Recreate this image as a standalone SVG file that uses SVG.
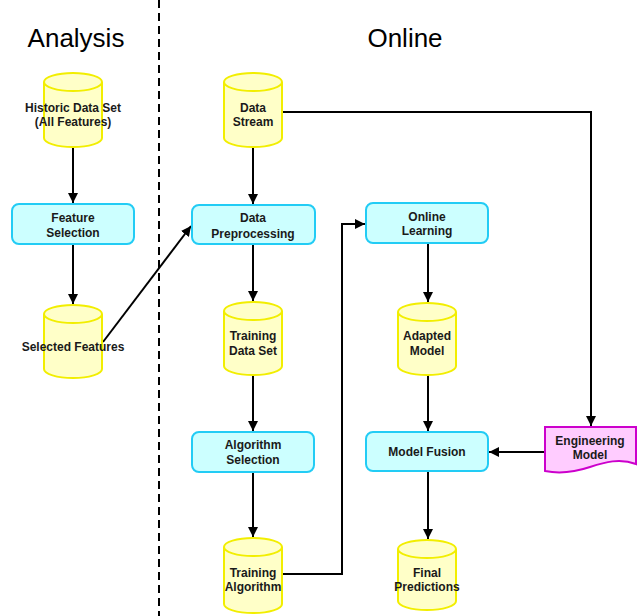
<svg xmlns="http://www.w3.org/2000/svg" width="642" height="616" viewBox="0 0 642 616">
<style>
.cyl{fill:#FFFFC8;stroke:#F2EE00;stroke-width:2}
.box{fill:#CCFFFF;stroke:#22CCF5;stroke-width:2}
.doc{fill:#FFCCFF;stroke:#CC00CC;stroke-width:2}
.t{font-family:"Liberation Sans",Arial,sans-serif;font-weight:bold;font-size:12px;fill:#1a1a1a;text-anchor:middle}
.h{font-family:"Liberation Sans",Arial,sans-serif;font-size:26px;fill:#000;text-anchor:middle}
.c{fill:none;stroke:#000;stroke-width:2}
</style>
<defs>
<marker id="ah" viewBox="0 0 10 10" refX="10" refY="5" markerWidth="5" markerHeight="5" orient="auto" markerUnits="strokeWidth">
<path d="M0,0 L10,5 L0,10 Z" fill="#000"/>
</marker>
</defs>
<rect width="642" height="616" fill="#fff"/>
<line x1="159" y1="0" x2="159" y2="616" stroke="#000" stroke-width="2" stroke-dasharray="8,5"/>
<text class="h" x="76" y="47">Analysis</text>
<text class="h" x="405" y="47">Online</text>

<g id="connectors">
<path class="c" d="M73,147 V203" marker-end="url(#ah)"/>
<path class="c" d="M73,244 V304" marker-end="url(#ah)"/>
<path class="c" d="M103,342 L191,226" marker-end="url(#ah)"/>
<path class="c" d="M253,147 V204" marker-end="url(#ah)"/>
<path class="c" d="M253,244 V301" marker-end="url(#ah)"/>
<path class="c" d="M253,375 V431" marker-end="url(#ah)"/>
<path class="c" d="M253,472 V537" marker-end="url(#ah)"/>
<path class="c" d="M282,574 H342 V224 H365" marker-end="url(#ah)"/>
<path class="c" d="M428,243 V302" marker-end="url(#ah)"/>
<path class="c" d="M428,375 V431" marker-end="url(#ah)"/>
<path class="c" d="M428,471 V539" marker-end="url(#ah)"/>
<path class="c" d="M282,112 H591 V426" marker-end="url(#ah)"/>
<path class="c" d="M545,452 H489" marker-end="url(#ah)"/>
</g>

<g id="historic">
<path class="cyl" d="M44,82 A29,9 0 0 1 102,82 V138 A29,9 0 0 1 44,138 Z"/>
<path class="cyl" d="M44,82 A29,9 0 0 0 102,82"/>
<text class="t" x="73" y="112">Historic Data Set</text>
<text class="t" x="73" y="126">(All Features)</text>
</g>
<g id="featsel">
<rect class="box" x="12" y="204" width="122" height="40" rx="7"/>
<text class="t" x="73" y="222">Feature</text>
<text class="t" x="73" y="237">Selection</text>
</g>
<g id="selected">
<path class="cyl" d="M44,314 A29,9 0 0 1 102,314 V369 A29,9 0 0 1 44,369 Z"/>
<path class="cyl" d="M44,314 A29,9 0 0 0 102,314"/>
<text class="t" x="73" y="351">Selected Features</text>
</g>
<g id="stream">
<path class="cyl" d="M224,82 A29,9 0 0 1 282,82 V138 A29,9 0 0 1 224,138 Z"/>
<path class="cyl" d="M224,82 A29,9 0 0 0 282,82"/>
<text class="t" x="253" y="112">Data</text>
<text class="t" x="253" y="126">Stream</text>
</g>
<g id="preproc">
<rect class="box" x="192" y="205" width="123" height="39" rx="7"/>
<text class="t" x="253" y="222">Data</text>
<text class="t" x="253" y="238">Preprocessing</text>
</g>
<g id="trainset">
<path class="cyl" d="M224,311 A29,9 0 0 1 282,311 V366 A29,9 0 0 1 224,366 Z"/>
<path class="cyl" d="M224,311 A29,9 0 0 0 282,311"/>
<text class="t" x="253" y="340">Training</text>
<text class="t" x="253" y="355">Data Set</text>
</g>
<g id="algsel">
<rect class="box" x="192" y="432" width="122" height="40" rx="7"/>
<text class="t" x="253" y="449">Algorithm</text>
<text class="t" x="253" y="464">Selection</text>
</g>
<g id="trainalg">
<path class="cyl" d="M224,547 A29,9 0 0 1 282,547 V604 A29,9 0 0 1 224,604 Z"/>
<path class="cyl" d="M224,547 A29,9 0 0 0 282,547"/>
<text class="t" x="253" y="577">Training</text>
<text class="t" x="253" y="591">Algorithm</text>
</g>
<g id="online">
<rect class="box" x="366" y="203" width="122" height="40" rx="7"/>
<text class="t" x="427" y="221">Online</text>
<text class="t" x="427" y="235">Learning</text>
</g>
<g id="adapted">
<path class="cyl" d="M398,312 A29,9 0 0 1 456,312 V366 A29,9 0 0 1 398,366 Z"/>
<path class="cyl" d="M398,312 A29,9 0 0 0 456,312"/>
<text class="t" x="427" y="340">Adapted</text>
<text class="t" x="427" y="355">Model</text>
</g>
<g id="fusion">
<rect class="box" x="366" y="432" width="122" height="39" rx="7"/>
<text class="t" x="427" y="456">Model Fusion</text>
</g>
<g id="engmodel">
<path class="doc" d="M545,427 H636 V464 C620,458 605,462 590,467 C575,472 560,474 545,471 Z"/>
<text class="t" x="590" y="445">Engineering</text>
<text class="t" x="590" y="459">Model</text>
</g>
<g id="final">
<path class="cyl" d="M398,549 A29,9 0 0 1 456,549 V601 A29,9 0 0 1 398,601 Z"/>
<path class="cyl" d="M398,549 A29,9 0 0 0 456,549"/>
<text class="t" x="427" y="577">Final</text>
<text class="t" x="427" y="591">Predictions</text>
</g>
</svg>
